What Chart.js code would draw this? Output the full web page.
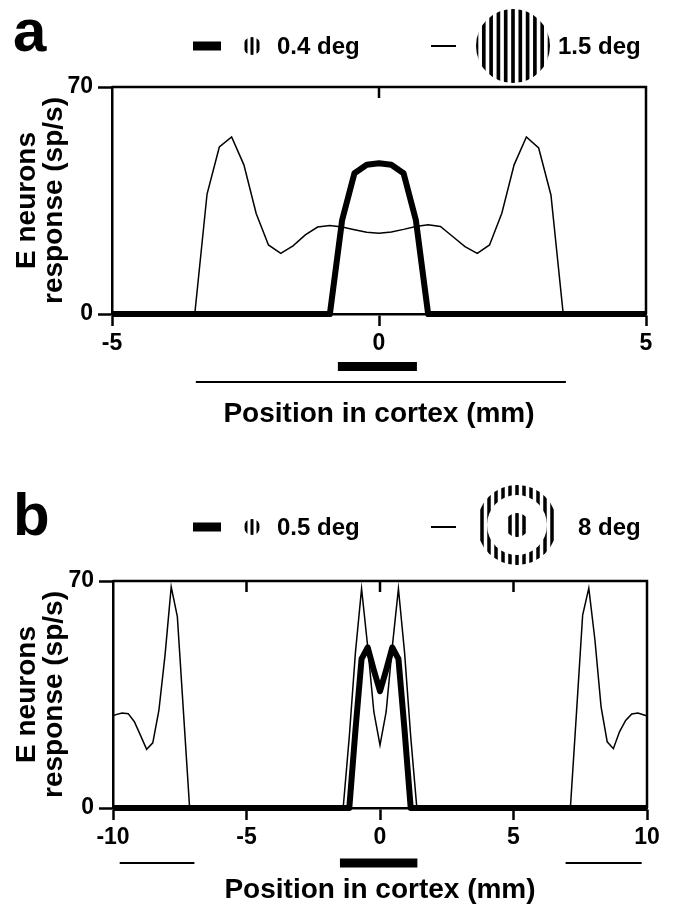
<!DOCTYPE html>
<html>
<head>
<meta charset="utf-8">
<script src="https://cdn.jsdelivr.net/npm/chart.js@4.4.1/dist/chart.umd.min.js"></script>
<style>
  body { margin: 0; background: #fff; }
  .panel { position: relative; width: 674px; }
  #panelA { height: 455px; }
  #panelB { height: 456px; }
</style>
</head>
<body>
<div class="panel" id="panelA"><canvas id="chartA"></canvas></div>
<div class="panel" id="panelB"><canvas id="chartB"></canvas></div>
<script>
// ---- panel a : 0.4 deg vs 1.5 deg grating ----
const xA15 = [-5, -3.45, -3.22, -2.99, -2.76, -2.53, -2.30, -2.07, -1.84, -1.61, -1.38, -1.15, -0.92, -0.69, -0.46, -0.23,
  0, 0.23, 0.46, 0.69, 0.92, 1.15, 1.38, 1.61, 1.84, 2.07, 2.30, 2.53, 2.76, 2.99, 3.22, 3.45, 5];
const yA15 = [0, 0, 37, 51.5, 54.6, 46, 31, 21.3, 18.7, 21, 24.4, 26.8, 27.3, 26.8, 26.0, 25.2,
  24.9, 25.3, 26.1, 27.0, 27.5, 27.0, 23.9, 20.8, 18.7, 21.3, 31.1, 46.0, 54.6, 51.2, 36.7, 0, 0];
const xA04 = [-5, -0.92, -0.69, -0.46, -0.23, 0, 0.23, 0.46, 0.69, 0.92, 5];
const yA04 = [0, 0, 29, 43.4, 46, 46.5, 46, 43.4, 29, 0, 0];
const stimA04 = [[-0.77, 0.71]];   // stimulus extent in cortex (mm)
const stimA15 = [[-3.43, 3.5]];
const topTicksA = [0];

// ---- panel b : 0.5 deg vs 8 deg (ring) ----
const xB8 = [-10, -9.89, -9.66, -9.43, -9.20, -8.97, -8.74, -8.51, -8.28, -8.05, -7.82, -7.59, -7.36, -7.13,
  -1.38, -1.15, -0.92, -0.69, -0.46, -0.23, 0, 0.23, 0.46, 0.69, 0.92, 1.15, 1.38,
  7.13, 7.36, 7.59, 7.82, 8.05, 8.28, 8.51, 8.74, 8.97, 9.20, 9.43, 9.66, 9.89, 10];
const yB8 = [28.4, 28.8, 29.3, 29.1, 26.6, 22.4, 18.1, 20.1, 30.2, 47.2, 68.2, 59, 29.5, 0,
  0, 22, 48, 67.6, 49.7, 29.6, 19.4, 29.6, 49.7, 67.6, 48, 22, 0,
  0, 29.5, 59.5, 67.8, 51.8, 31.2, 20.4, 18.3, 23.5, 27.0, 29.0, 29.3, 28.7, 28.4];
const xB05 = [-10, -1.15, -0.92, -0.69, -0.46, -0.23, 0, 0.23, 0.46, 0.69, 0.92, 1.15, 10];
const yB05 = [0, 0, 24, 46, 49.5, 42.5, 36, 42.5, 49.5, 46, 24, 0, 0];
const stimB05 = [[-1.5, 1.4]];
const stimB8 = [[-9.75, -6.95], [6.95, 9.8]];
const topTicksB = [-5, 0, 5];

const FONT = "'Liberation Sans', Arial, Helvetica, sans-serif";
const toPts = (xs, ys) => xs.map((x, i) => ({ x, y: ys[i] }));

/* ---------------- grating icons ---------------- */
function disk(ctx, cx, cy, r, period) {
  ctx.save();
  ctx.beginPath();
  ctx.arc(cx, cy, r, 0, Math.PI * 2);
  ctx.clip();
  ctx.fillStyle = '#fff';
  ctx.fillRect(cx - r, cy - r, 2 * r, 2 * r);
  ctx.fillStyle = '#000';
  const start = cx - period / 4 - period * Math.ceil(r / period);
  for (let x = start; x < cx + r; x += period) ctx.fillRect(x, cy - r, period / 2, 2 * r);
  ctx.restore();
}
function ringGrating(ctx, cx, cy, rOut, rIn, rCenter, period) {
  disk(ctx, cx, cy, rOut, period);
  ctx.fillStyle = '#fff';
  ctx.beginPath();
  ctx.arc(cx, cy, rIn, 0, Math.PI * 2);
  ctx.fill();
  disk(ctx, cx, cy, rCenter, period);
}

/* ------------- frame, inner ticks, stimulus bars, legend ------------- */
function makeDecor(cfg) {
  return {
    id: 'decor',
    afterDraw(chart) {
      const { ctx, chartArea: a, scales } = chart;
      const xs = scales.x;
      ctx.save();
      ctx.strokeStyle = '#000';
      ctx.lineCap = 'butt';
      // top + right frame
      ctx.lineWidth = 2.5;
      ctx.beginPath();
      ctx.moveTo(a.left, a.top);
      ctx.lineTo(a.right, a.top);
      ctx.lineTo(a.right, a.bottom);
      ctx.stroke();
      // inward ticks on top edge
      cfg.topTicks.forEach(v => {
        const px = xs.getPixelForValue(v);
        ctx.beginPath();
        ctx.moveTo(px, a.top);
        ctx.lineTo(px, a.top + 11);
        ctx.stroke();
      });
      // stimulus extents under the axis
      ctx.fillStyle = '#000';
      cfg.thickStim.forEach(([s, e]) => {
        const x0 = xs.getPixelForValue(s), x1 = xs.getPixelForValue(e);
        ctx.fillRect(x0, a.bottom + cfg.thickStimY - 4.5, x1 - x0, 9);
      });
      cfg.thinStim.forEach(([s, e]) => {
        const x0 = xs.getPixelForValue(s), x1 = xs.getPixelForValue(e);
        ctx.fillRect(x0, a.bottom + cfg.thinStimY - 1, x1 - x0, 2);
      });
      // panel letter
      const L = cfg.legend;
      ctx.textBaseline = 'alphabetic';
      ctx.textAlign = 'left';
      ctx.font = `bold 60px ${FONT}`;
      ctx.fillText(cfg.letter, 13, L.letterBase);
      // legend row
      ctx.fillRect(193, L.y - 4.5, 28, 9);
      disk(ctx, 252, L.y, L.smallR, 6);
      ctx.font = `bold 24px ${FONT}`;
      ctx.fillStyle = '#000';
      ctx.fillText(cfg.label1, L.text1X, L.base);
      ctx.fillRect(431, L.y - 1, 25, 2);
      if (cfg.ring) {
        ringGrating(ctx, L.bigX, L.bigY, L.bigR, L.bigR - 10, 12, 7);
      } else {
        disk(ctx, L.bigX, L.bigY, L.bigR, 7.3);
      }
      ctx.fillStyle = '#000';
      ctx.fillText(cfg.label2, L.text2X, L.base);
      ctx.restore();
    }
  };
}

function makeChart(id, o) {
  return new Chart(document.getElementById(id), {
    type: 'line',
    data: {
      datasets: [
        { data: toPts(o.xThick, o.yThick), borderColor: '#000', borderWidth: 6, borderJoinStyle: 'round', pointRadius: 0, clip: false },
        { data: toPts(o.xThin, o.yThin), borderColor: '#000', borderWidth: 1.5, pointRadius: 0, clip: false }
      ]
    },
    options: {
      responsive: true,
      maintainAspectRatio: false,
      animation: false,
      devicePixelRatio: 1,
      layout: { padding: { left: 0, top: o.padTop, right: o.padRight, bottom: 0 } },
      plugins: { legend: { display: false }, tooltip: { enabled: false } },
      scales: {
        x: {
          type: 'linear', min: o.xMin, max: o.xMax,
          afterFit: s => { s.height = o.xHeight; },
          ticks: { stepSize: 5, color: '#000', padding: 4, font: { family: FONT, size: 23, weight: 'bold' } },
          grid: { drawOnChartArea: false, drawTicks: true, tickLength: 12, tickWidth: 2.5, color: '#000' },
          border: { display: true, color: '#000', width: 2.5 },
          title: { display: true, text: 'Position in cortex (mm)', color: '#000',
            font: { family: FONT, size: 28, weight: 'bold', lineHeight: 1 }, padding: { top: 0, bottom: o.xTitlePad } }
        },
        y: {
          min: 0, max: 70,
          afterFit: s => { s.width = o.yWidth; },
          ticks: { stepSize: 70, color: '#000', padding: 5, font: { family: FONT, size: 23, weight: 'bold' } },
          grid: { drawOnChartArea: false, drawTicks: true, tickLength: 14, tickWidth: 2.5, color: '#000' },
          border: { display: true, color: '#000', width: 2.5 },
          title: { display: true, text: ['E neurons', 'response (sp/s)'], color: '#000',
            font: { family: FONT, size: 28, weight: 'bold', lineHeight: 0.95 }, padding: { top: 14, bottom: 0 } }
        }
      }
    },
    plugins: [makeDecor(o.decor)]
  });
}

makeChart('chartA', {
  xThin: xA15, yThin: yA15, xThick: xA04, yThick: yA04,
  xMin: -5, xMax: 5, padTop: 87, padRight: 28, yWidth: 112, xHeight: 141, xTitlePad: 27,
  decor: {
    topTicks: topTicksA, thickStim: stimA04, thinStim: stimA15, thickStimY: 52.5, thinStimY: 68,
    letter: 'a', label1: '0.4 deg', label2: '1.5 deg', ring: false,
    legend: { letterBase: 51, y: 46, base: 54, smallR: 9, text1X: 277, bigX: 513, bigY: 46, bigR: 37, text2X: 558 }
  }
});

makeChart('chartB', {
  xThin: xB8, yThin: yB8, xThick: xB05, yThick: yB05,
  xMin: -10, xMax: 10, padTop: 126, padRight: 27, yWidth: 113, xHeight: 103, xTitlePad: 7,
  decor: {
    topTicks: topTicksB, thickStim: stimB05, thinStim: stimB8, thickStimY: 55, thinStimY: 55,
    letter: 'b', label1: '0.5 deg', label2: '8 deg', ring: true,
    legend: { letterBase: 80, y: 72, base: 80, smallR: 8, text1X: 277, bigX: 517, bigY: 70, bigR: 40, text2X: 578 }
  }
});
</script>
</body>
</html>
